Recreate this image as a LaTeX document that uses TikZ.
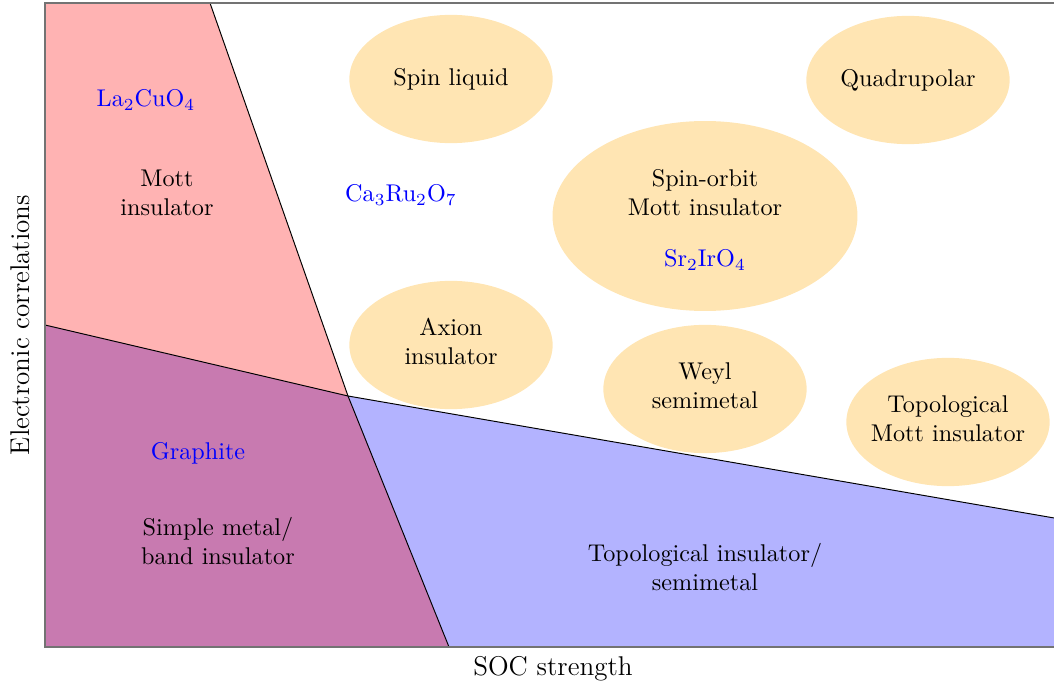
\documentclass[tikz,border=0pt]{standalone}
\usetikzlibrary{shapes.geometric}
\definecolor{redzone}{RGB}{255,179,179}
\definecolor{bluezone}{RGB}{179,179,255}
\definecolor{mixzone}{RGB}{200,122,176}
\definecolor{phasecol}{RGB}{255,229,179}
\begin{document}
\begin{tikzpicture}[x=0.4132pt,y=-0.4132pt,
  phase/.style={ellipse, fill=phasecol, inner sep=0pt, minimum width=84pt, minimum height=53pt, align=center},
  compound/.style={text=blue, inner sep=1pt},
  lbl/.style={align=center, inner sep=1pt},
  axlbl/.style={font=\fontsize{11.2}{13}\selectfont, inner sep=1pt},
  border/.style={black, line width=0.4pt},
  frame/.style={black!55, line width=0.5pt}]
\useasboundingbox (0,0) rectangle (1054,686);
% region corners
\coordinate (TL) at (45,3);
\coordinate (TM) at (210,3);
\coordinate (TR) at (1060,3);
\coordinate (X) at (348,396);
\coordinate (LM) at (45,325);
\coordinate (BL) at (45,647);
\coordinate (BM) at (449,647);
\coordinate (RM) at (1060,519);
\coordinate (BR) at (1060,647);
% regions
\fill[redzone] (TL) -- (TM) -- (X) -- (LM) -- cycle;
\fill[mixzone] (LM) -- (X) -- (BM) -- (BL) -- cycle;
\fill[bluezone] (X) -- (RM) -- (BR) -- (BM) -- cycle;
\draw[border] (TM) -- (X) -- (BM);
\draw[border] (LM) -- (X) -- (RM);
\draw[frame] (TR) -- (TL) -- (BL) -- (BR);
% phases
\node[phase] (spinliq) at (451,79) {Spin liquid};
\node[phase] (quad) at (908,80) {Quadrupolar};
\node[phase, minimum width=126pt, minimum height=78.5pt] (soc) at (705,216) {};
\node[lbl] (soctext) at (705,193) {Spin-orbit\\Mott insulator};
\node[compound] (sr) at (705,260) {Sr$_2$IrO$_4$};
\node[phase] (axion) at (451,345) {};
\node[lbl] (axiontext) at (451,341) {Axion\\insulator};
\node[phase] (weyl) at (705,389) {};
\node[lbl] (weyltext) at (705,386) {Weyl\\semimetal};
\node[phase] (topmott) at (948,422) {};
\node[lbl] (topmotttext) at (948,419) {Topological\\Mott insulator};
% region labels
\node[compound] (lacuo) at (146,100) {La$_2$CuO$_4$};
\node[lbl] (mott) at (167,193) {Mott\\insulator};
\node[compound] (caruo) at (401,195) {Ca$_3$Ru$_2$O$_7$};
\node[compound] (graph) at (198,453) {Graphite};
\node[lbl] (simple) at (218,541) {Simple metal/\\band insulator};
\node[lbl] (topins) at (705,567) {Topological insulator/\\semimetal};
% axis labels
\node[axlbl] (xlab) at (553,669) {SOC strength};
\node[axlbl, rotate=90] (ylab) at (20,325) {Electronic correlations};
\end{tikzpicture}
\end{document}
